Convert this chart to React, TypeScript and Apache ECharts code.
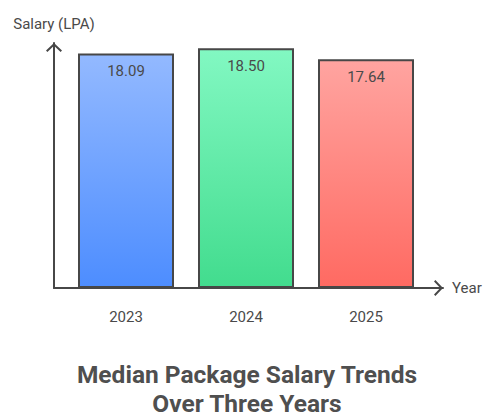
import React, { useEffect, useRef } from "react";
import * as echarts from "echarts";

const categories = ["2023", "2024", "2025"];
const salaries = [18.09, 18.5, 17.64];
const topColors = ["#93b9ff", "#82f8c2", "#ffa4a0"];
const bottomColors = ["#4d8dff", "#42dc8e", "#ff6a62"];

const chevron = "path://M0,7.6 L8,0 L16,7.6 L14.6,9 L8,2.8 L1.4,9 Z";
const AXIS = "#474747";
const TEXT = "#4a4a4a";
const FONT = "Roboto";

export default function App() {
  const ref = useRef<HTMLDivElement>(null);
  useEffect(() => {
    document.body.style.margin = "0";
    if (!ref.current) return;
    const chart = echarts.init(ref.current, null, { renderer: "svg" });
    const yMax = 18.9;
    chart.setOption({
      animation: false,
      textStyle: { fontFamily: FONT },
      title: {
        text: "Median Package Salary Trends\nOver Three Years",
        left: "center",
        top: 360,
        padding: 0,
        textStyle: { fontFamily: FONT, fontSize: 24.5, fontWeight: "bold", color: "#4f4f4f", lineHeight: 29 },
      },
      grid: [
        { left: 54, right: 51, top: 43, bottom: 132, outerBoundsMode: "none", containLabel: false },
        { left: 66, right: 68, top: 43, bottom: 132, outerBoundsMode: "none", containLabel: false },
      ],
      xAxis: [
        {
          type: "category",
          gridIndex: 0,
          data: categories,
          name: "Year",
          nameLocation: "end",
          nameGap: 9,
          nameTextStyle: { fontFamily: FONT, fontSize: 15, color: TEXT },
          axisLine: {
            show: true,
            symbol: ["none", chevron],
            symbolSize: [16, 9],
            symbolOffset: [0, -4.5],
            lineStyle: { color: AXIS, width: 2 },
          },
          axisTick: { show: false },
          axisLabel: { show: false },
          splitLine: { show: false },
        },
        {
          type: "category",
          gridIndex: 1,
          data: categories,
          axisLine: { show: false },
          axisTick: { show: false },
          axisLabel: { fontFamily: FONT, fontSize: 15, color: TEXT, margin: 21 },
          splitLine: { show: false },
        },
      ],
      yAxis: [
        {
          type: "value",
          gridIndex: 0,
          min: 0,
          max: yMax,
          name: "Salary (LPA)",
          nameLocation: "end",
          nameGap: 12,
          nameTextStyle: { fontFamily: FONT, fontSize: 15, color: TEXT, align: "center" },
          axisLine: {
            show: true,
            symbol: ["none", chevron],
            symbolSize: [16, 9],
            symbolOffset: [0, -4.5],
            lineStyle: { color: AXIS, width: 2 },
          },
          axisTick: { show: false },
          axisLabel: { show: false },
          splitLine: { show: false },
        },
        {
          type: "value",
          gridIndex: 1,
          min: 0,
          max: yMax,
          show: false,
          splitLine: { show: false },
        },
      ],
      series: [
        {
          type: "bar",
          xAxisIndex: 1,
          yAxisIndex: 1,
          barWidth: 96,
          data: salaries.map((v, i) => ({
            value: v,
            itemStyle: {
              color: new echarts.graphic.LinearGradient(0, 0, 0, 1, [
                { offset: 0, color: topColors[i] },
                { offset: 1, color: bottomColors[i] },
              ]),
              borderColor: AXIS,
              borderWidth: 2,
            },
          })),
          label: {
            show: true,
            position: "insideTop",
            distance: 10,
            fontFamily: FONT,
            fontSize: 15,
            color: TEXT,
            formatter: (p: any) => Number(p.value).toFixed(2),
          },
        },
      ],
    });
    return () => chart.dispose();
  }, []);
  return <div ref={ref} style={{ width: 494, height: 420 }} />;
}
